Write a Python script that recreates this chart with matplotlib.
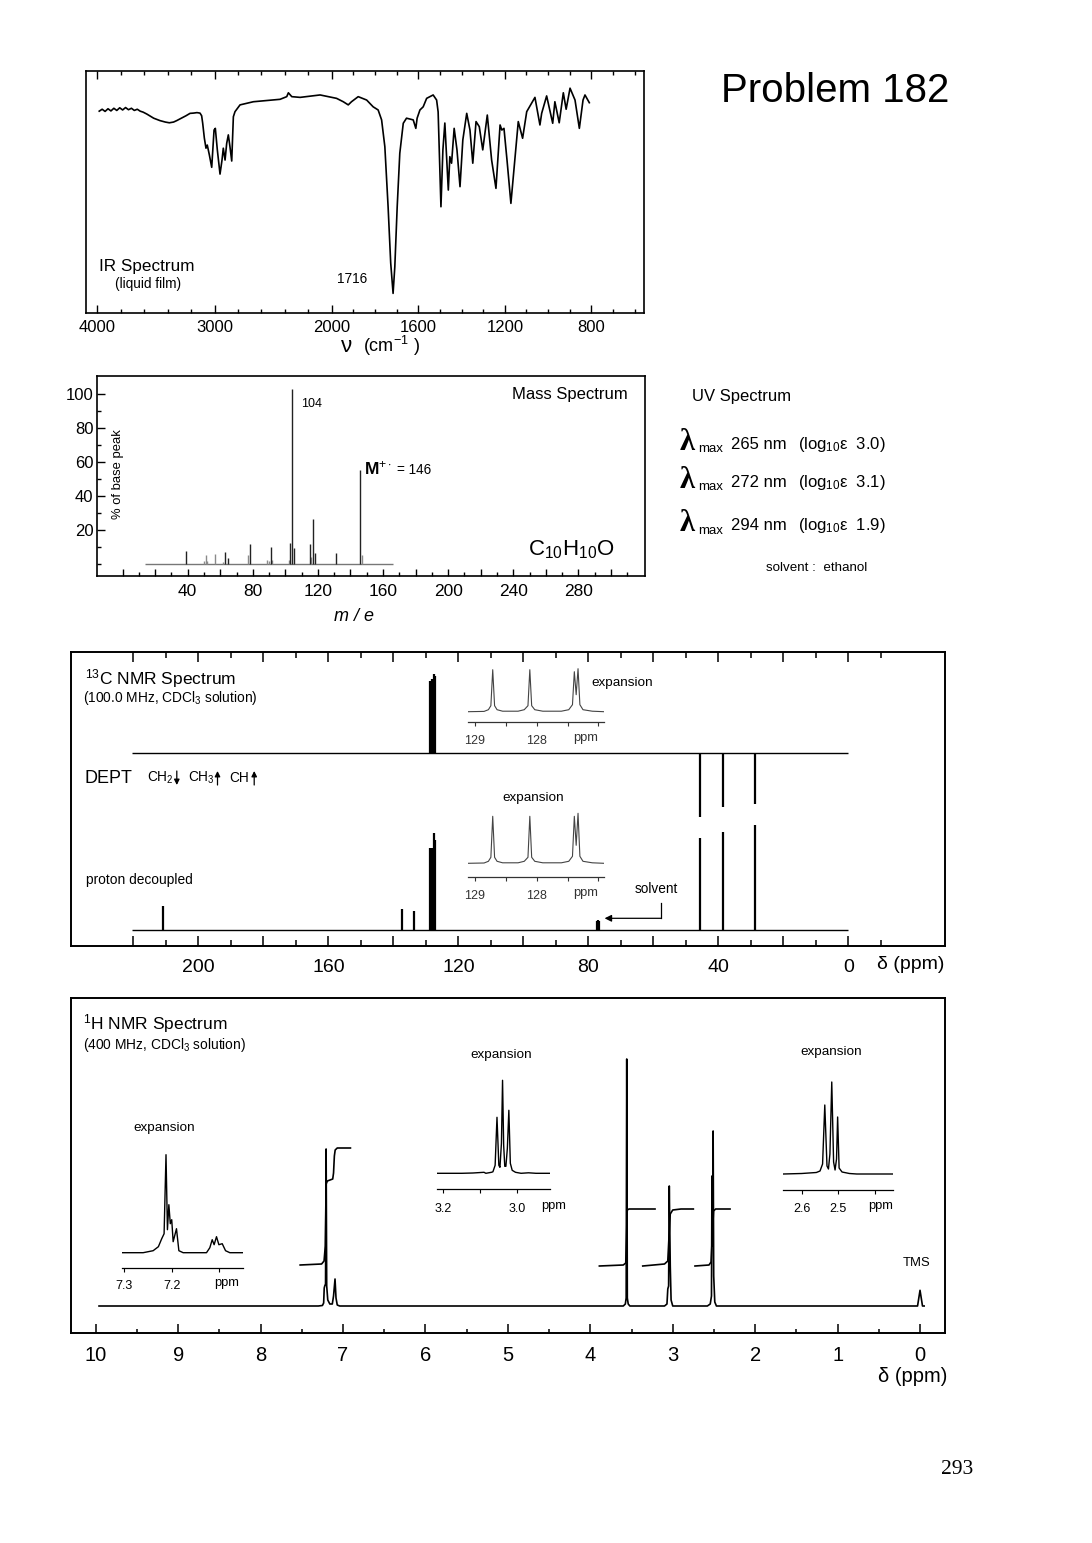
import numpy as np
import matplotlib
matplotlib.use("Agg")
import matplotlib.pyplot as plt
from matplotlib.ticker import FixedLocator, FixedFormatter, NullFormatter

plt.rcParams['font.family'] = ['Liberation Sans', 'DejaVu Sans']
plt.rcParams['mathtext.fontset'] = 'custom'
plt.rcParams['mathtext.rm'] = 'Liberation Sans'
plt.rcParams['mathtext.it'] = 'Liberation Sans:italic'
plt.rcParams['mathtext.bf'] = 'Liberation Sans:bold'

# ---------------- data ----------------
# IR trace (wavenumber cm-1, transmittance-like scale 0..100 of frame height)
ir_wavenumber = [3985, 3960, 3935, 3910, 3885, 3860, 3835, 3810, 3785, 3760, 3735, 3710, 3685, 3660,
                 3635, 3610, 3578, 3520, 3466, 3420, 3386, 3350, 3323, 3280, 3244, 3209, 3180, 3150,
                 3124, 3110, 3101, 3087, 3073, 3062, 3044, 3024, 3004, 2993, 2976, 2953, 2936, 2925,
                 2910, 2896, 2882, 2868, 2853, 2839, 2825, 2782, 2668, 2440, 2383, 2369, 2340, 2269,
                 2098, 1977, 1946, 1923, 1908, 1877, 1838, 1808, 1785, 1769, 1754, 1739, 1727, 1716,
                 1708, 1697, 1685, 1669, 1654, 1623, 1611, 1605, 1592, 1577, 1561, 1546, 1531, 1515,
                 1508, 1495, 1486, 1477, 1461, 1454, 1446, 1434, 1421, 1407, 1394, 1376, 1361, 1348,
                 1333, 1318, 1302, 1281, 1261, 1241, 1222, 1214, 1204, 1190, 1172, 1158, 1138, 1118,
                 1099, 1061, 1038, 1030, 1007, 979, 969, 949, 930, 917, 899, 876, 856, 839, 830, 810]
ir_transmittance = [83.4, 84.2, 83.3, 84.4, 83.5, 84.6, 83.7, 84.8, 83.9, 84.9, 84.0, 84.6, 83.7, 84.2,
                    83.4, 83.0, 82.2, 80.5, 79.5, 78.9, 78.6, 78.9, 79.5, 80.6, 81.5, 82.5, 82.6, 82.8,
                    82.6, 81.5, 78.4, 72.3, 68.1, 69.4, 65.3, 60.2, 75.6, 76.3, 67.4, 57.4, 63.2, 68.1,
                    63.2, 70.1, 73.6, 68.7, 62.8, 81.1, 83.2, 86.0, 87.3, 88.3, 89.4, 91.0, 89.4, 89.1,
                    90.1, 88.7, 87.3, 86.0, 87.3, 89.4, 88.0, 85.2, 83.9, 79.8, 68.7, 43.9, 20.7, 8.1,
                    19.1, 43.9, 66.0, 78.4, 80.5, 79.8, 76.3, 80.5, 83.9, 85.2, 88.7, 89.4, 90.1, 88.0,
                    83.1, 43.9, 67.4, 78.5, 50.8, 64.6, 61.9, 76.3, 67.4, 52.2, 71.5, 82.5, 75.6, 61.9,
                    79.1, 77.0, 67.4, 81.8, 63.2, 51.5, 77.7, 75.6, 76.3, 63.2, 45.3, 59.1, 79.1, 72.2,
                    83.2, 89.1, 77.7, 82.5, 89.7, 78.4, 87.3, 78.6, 91.0, 84.2, 92.9, 88.0, 76.3, 88.0, 90.1, 86.9]
ir_major_ticks = [4000, 3000, 2000, 1600, 1200, 800]
ir_minor_ticks = [3800, 3600, 3400, 3200, 2800, 2600, 2400, 2200, 1900, 1800, 1700,
                  1500, 1400, 1300, 1100, 1000, 900, 700, 600]

# Mass spectrum
ms_mz = [39, 63, 65, 78, 91, 103, 104, 105, 115, 117, 118, 131, 146]
ms_intensity = [7.4, 6.8, 3.3, 11.6, 10.0, 12.0, 103.0, 9.5, 11.5, 26.6, 6.4, 6.2, 55.3]
ms_minor_mz = [50, 51, 52, 57, 62, 77, 89, 90, 92, 102, 116, 147]
ms_minor_intensity = [1.4, 4.9, 1.5, 5.8, 1.2, 5.4, 2.5, 1.5, 2.0, 2.0, 4.0, 5.2]
ms_baseline_range = [14, 166]
ms_xtick_labels = [40, 80, 120, 160, 200, 240, 280]
ms_ytick_labels = [20, 40, 60, 80, 100]

# UV
uv_lambda_max = [265, 272, 294]
uv_log_eps = ["3.0", "3.1", "1.9"]

# 13C NMR
c13_ppm = [211.0, 137.4, 133.8, 128.71, 128.11, 127.39, 127.33, 45.6, 38.6, 28.7]
c13_decoupled = [24, 21, 19.3, 82, 82, 97, 90, 92, 98, 105]
c13_solvent_ppm = [77.3, 77.0, 76.7]
c13_solvent_int = [9, 10, 9]
dept_ppm = [128.71, 128.11, 127.39, 127.33, 45.6, 38.6, 28.7]
dept_int = [72, 74, 79, 77, -64, -54, -51]
c13_range = [220.5, 0.0]
c13_exp_ppm = [129.11, 128.85, 128.78, 128.74, 128.71, 128.68, 128.64, 128.55, 128.3, 128.2,
               128.14, 128.11, 128.08, 128.03, 127.9, 127.6, 127.48, 127.42, 127.39, 127.36,
               127.33, 127.30, 127.25, 127.1, 126.91]
c13_exp_dept = [0, 0.3, 2, 6, 42, 6, 2, 0.5, 0.5, 2, 6, 42, 6, 2, 0.5, 0.5, 2, 7, 40, 17, 43, 7, 2, 0.5, 0]
c13_exp_dec = [0, 0.3, 2, 6, 47, 6, 2, 0.5, 0.5, 2, 6, 47, 6, 2, 0.5, 0.5, 2, 7, 47, 18, 50, 7, 2, 0.5, 0]

# 1H NMR main trace
h1_ppm = [9.96, 7.30, 7.25, 7.235, 7.228, 7.222, 7.212, 7.205, 7.198, 7.185, 7.16, 7.13, 7.115,
          7.097, 7.085, 7.07, 7.04, 3.60, 3.575, 3.565, 3.558, 3.551, 3.54, 3.52, 3.10, 3.07,
          3.060, 3.050, 3.042, 3.030, 3.020, 3.00, 2.58, 2.545, 2.530, 2.524, 2.518, 2.510,
          2.503, 2.49, 2.47, 0.03, 0.0, -0.03, -0.05]
h1_int = [0, 0, 0.5, 3, 18, 20, 22, 157, 20, 6, 2, 2, 10, 27, 8, 1, 0, 0, 2, 8, 247, 8, 2, 0,
          0, 2, 17, 20, 120, 40, 6, 0, 0, 2, 10, 130, 60, 175, 30, 4, 0, 0, 15.7, 0, 0]
# integrals
int_arom_ppm = [7.52, 7.26, 7.23, 7.215, 7.205, 7.19, 7.125, 7.115, 7.105, 7.095, 7.07, 6.91]
int_arom_val = [41, 42, 45, 60, 122, 125, 127, 133, 150, 156, 158, 158]
int_s356_ppm = [3.89, 3.60, 3.57, 3.56, 3.552, 3.53, 3.215]
int_s356_val = [40, 41, 43, 70, 96, 97, 97]
int_t304_ppm = [3.364, 3.10, 3.06, 3.045, 3.03, 3.00, 2.90, 2.75]
int_t304_val = [40, 42, 45, 70, 92, 96, 97, 97]
int_t251_ppm = [2.73, 2.56, 2.535, 2.52, 2.505, 2.48, 2.305]
int_t251_val = [40, 41, 44, 70, 95, 97, 97]
# 1H expansions
h1_exp_arom_ppm = [7.305, 7.26, 7.239, 7.228, 7.221, 7.216, 7.212, 7.209, 7.206, 7.203, 7.200,
                   7.197, 7.190, 7.185, 7.176, 7.127, 7.120, 7.115, 7.111, 7.106, 7.101, 7.094,
                   7.087, 7.078, 7.051]
h1_exp_arom_int = [0, 0, 2, 6, 14, 19, 98, 23, 48, 29, 33, 11, 24, 2, 0, 0, 5, 13, 8, 16, 8, 9, 2, 0, 0]
h1_exp_304_ppm = [3.216, 3.15, 3.12, 3.09, 3.085, 3.07, 3.066, 3.060, 3.055, 3.050, 3.047, 3.043,
                  3.040, 3.037, 3.034, 3.031, 3.027, 3.023, 3.019, 3.014, 3.005, 2.99, 2.97, 2.95, 2.912]
h1_exp_304_int = [0, 0, 0.3, 1, 0, 1, 1.5, 8, 56, 8, 6, 30, 93, 28, 7, 7, 25, 63, 10, 3, 1, 0, 0.5, 0, 0]
h1_exp_251_ppm = [2.65, 2.60, 2.58, 2.56, 2.55, 2.543, 2.537, 2.531, 2.527, 2.523, 2.518, 2.513,
                  2.509, 2.505, 2.502, 2.498, 2.49, 2.47, 2.45, 2.352]
h1_exp_251_int = [0, 0.5, 1, 1.5, 3, 10, 69, 8, 5, 20, 92, 12, 4, 15, 57, 6, 2, 0.5, 0, 0]

# ---------------- figure ----------------
W, H = 1092, 1543
fig = plt.figure(figsize=(W / 100, H / 100), dpi=100)


def px_axes(l, t, r, b):
    return fig.add_axes([l / W, 1 - b / H, (r - l) / W, (b - t) / H])


def ftext(x, y, s, **kw):
    kw.setdefault('ha', 'left')
    kw.setdefault('va', 'center')
    return fig.text(x / W, 1 - y / H, s, **kw)


def farrow(x, y_from, y_to):
    fig.add_artist(matplotlib.patches.FancyArrowPatch(
        (x / W, 1 - y_from / H), (x / W, 1 - y_to / H), transform=fig.transFigure,
        arrowstyle='-|>', mutation_scale=8, lw=0.9, color='k', shrinkA=0, shrinkB=0))


def frame(ax, lw):
    for s in ax.spines.values():
        s.set_linewidth(lw)


# ---------- IR ----------
K = 0.2165 / 0.117


def ir_fwd(w):
    w = np.asarray(w, dtype=float)
    return np.where(w >= 2000, w - 2000, -(2000 - w) * K)


def ir_inv(u):
    u = np.asarray(u, dtype=float)
    return np.where(u >= 0, u + 2000, 2000 + u / K)


ax = px_axes(86, 71, 644, 313)
ax.set_xscale('function', functions=(ir_fwd, ir_inv))
ax.plot(ir_wavenumber, ir_transmittance, color='k', lw=1.2)
ax.set_xlim(4098, 557.5)
ax.set_ylim(0, 100)
ax.xaxis.set_major_locator(FixedLocator(ir_major_ticks))
ax.xaxis.set_major_formatter(FixedFormatter([str(t) for t in ir_major_ticks]))
ax.xaxis.set_minor_locator(FixedLocator(ir_minor_ticks))
ax.xaxis.set_minor_formatter(NullFormatter())
ax.tick_params(axis='x', which='both', direction='in', top=True, bottom=True, width=1.0,
               labelsize=12, pad=5)
ax.tick_params(axis='x', which='major', length=6)
ax.tick_params(axis='x', which='minor', length=3)
ax.set_yticks([])
frame(ax, 1.2)
ftext(98.6, 266.6, 'IR Spectrum', fontsize=12.3)
ftext(115, 283.8, '(liquid film)', fontsize=9.8)
ftext(336.5, 278.8, '1716', fontsize=9.8)
ftext(341, 347, 'ν', fontsize=16)
ftext(363, 346, '(cm$^{-1}$ )', fontsize=13)

ftext(835, 91, 'Problem 182', fontsize=29, ha='center')

# ---------- Mass spectrum ----------
ax = px_axes(97, 376, 645, 576)
ax.hlines(0, ms_baseline_range[0], ms_baseline_range[1], color='#777777', lw=1.0)
ax.vlines(ms_minor_mz, 0, ms_minor_intensity, color='#8a8a8a', lw=1.0)
ax.vlines(ms_mz, 0, ms_intensity, color='#222222', lw=1.0)
ax.set_xlim(-15.7, 320.9)
ax.set_ylim(-7.2, 110.4)
xmaj = list(range(0, 301, 20))
ax.xaxis.set_major_locator(FixedLocator(xmaj))
ax.xaxis.set_major_formatter(FixedFormatter([str(v) if v in ms_xtick_labels else '' for v in xmaj]))
ax.xaxis.set_minor_locator(FixedLocator(list(range(10, 320, 20))))
ax.yaxis.set_major_locator(FixedLocator(ms_ytick_labels))
ax.yaxis.set_major_formatter(FixedFormatter([str(v) for v in ms_ytick_labels]))
ax.yaxis.set_minor_locator(FixedLocator([0, 10, 30, 50, 70, 90]))
ax.tick_params(which='both', direction='in', width=1.0, labelsize=12.5)
ax.tick_params(axis='x', which='major', length=5, pad=6)
ax.tick_params(axis='x', which='minor', length=3)
ax.tick_params(axis='y', which='major', length=6, pad=2.5, labelsize=12)
ax.tick_params(axis='y', which='minor', length=3)
frame(ax, 1.2)
ax.text(0.969, 0.905, 'Mass Spectrum', transform=ax.transAxes, ha='right', va='center', fontsize=12)
ax.text(0.865, 0.13, r'C$_{10}$H$_{10}$O', transform=ax.transAxes, ha='center', va='center', fontsize=16)
ftext(300.7, 403.7, '104', fontsize=9)
ftext(364, 468.7, r'$\mathbf{M}^{+\cdot}$', fontsize=12.5)
ftext(397, 470, '= 146', fontsize=9.8)
ftext(118, 474, '% of base peak', fontsize=9.4, rotation=90, ha='center')
ftext(354, 616, 'm / e', fontsize=13, style='italic', ha='center')

# ---------- UV ----------
ftext(691.7, 396.7, 'UV Spectrum', fontsize=12)
uv_rows_y = [444.5, 482.5, 525.5]
for lam, eps, yy in zip(uv_lambda_max, uv_log_eps, uv_rows_y):
    ftext(680, yy - 2, 'λ', fontsize=22, family=['Liberation Serif', 'DejaVu Serif'], weight='bold')
    ftext(698.5, yy + 5, 'max', fontsize=9.5)
    ftext(731, yy, f'{lam} nm', fontsize=12)
    ftext(798, yy, '(log$_{10}$ε  ' + eps + ')', fontsize=12)
ftext(766, 568, 'solvent :  ethanol', fontsize=9.6)

# ---------- 13C NMR ----------
DEPT_OFF = 192.7
DEC_OFF = 16.0
ax = px_axes(71, 652, 945, 946)
ax.hlines(DEPT_OFF, c13_range[0], c13_range[1], color='k', lw=1.0)
ax.hlines(DEC_OFF, c13_range[0], c13_range[1], color='k', lw=1.0)
ax.vlines(dept_ppm, DEPT_OFF, DEPT_OFF + np.array(dept_int), color='k', lw=1.6)
ax.vlines(c13_ppm, DEC_OFF, DEC_OFF + np.array(c13_decoupled), color='k', lw=1.6)
ax.vlines(c13_solvent_ppm, DEC_OFF, DEC_OFF + np.array(c13_solvent_int), color='k', lw=1.6)
ax.set_xlim(239.2, -29.75)
ax.set_ylim(0, 294)
cmaj = list(range(220, -1, -20))
ax.xaxis.set_major_locator(FixedLocator(cmaj))
ax.xaxis.set_major_formatter(FixedFormatter([str(v) if v % 40 == 0 and v <= 200 else '' for v in cmaj]))
ax.xaxis.set_minor_locator(FixedLocator(list(range(210, -11, -20))))
ax.tick_params(axis='x', which='both', direction='in', top=True, bottom=True, width=1.1,
               labelsize=14, pad=9)
ax.tick_params(axis='x', which='major', length=7)
ax.tick_params(axis='x', which='minor', length=4.5)
ax.set_yticks([])
frame(ax, 1.4)
# solvent arrow
ax.plot([57.7, 57.7], [43, 27.7], color='k', lw=0.9)
ax.annotate('', xy=(75.0, 27.7), xytext=(57.7, 27.7),
            arrowprops=dict(arrowstyle='-|>', color='k', lw=0.9, mutation_scale=10, shrinkA=0, shrinkB=0))

ftext(85, 678.3, r'$^{13}$C NMR Spectrum', fontsize=12.5)
ftext(83.3, 698.3, r'(100.0 MHz, CDCl$_3$ solution)', fontsize=9.9)
ftext(85, 778.3, 'DEPT', fontsize=13)
ftext(147.3, 777.7, r'CH$_2$', fontsize=9.8)
ftext(188.3, 777.7, r'CH$_3$', fontsize=9.8)
ftext(229.3, 777.7, 'CH', fontsize=9.8)
farrow(176.8, 771, 785)
farrow(217.5, 785, 771)
farrow(254.2, 785, 771)
ftext(86, 880, 'proton decoupled', fontsize=9.9)
ftext(635, 889, 'solvent', fontsize=9.8)
ftext(591.7, 683, 'expansion', fontsize=9.7)
ftext(502, 798, 'expansion', fontsize=9.7)
ftext(877, 964.3, 'δ (ppm)', fontsize=14)


def inset(l, r, top, axis_y, xlim, ticks, labels, pad, color='k'):
    a = px_axes(l, top, r, axis_y)
    a.set_xlim(*xlim)
    a.set_ylim(0, axis_y - top)
    a.patch.set_alpha(0)
    for s in ['top', 'left', 'right']:
        a.spines[s].set_visible(False)
    a.spines['bottom'].set_linewidth(0.9)
    a.spines['bottom'].set_color(color)
    a.set_yticks([])
    a.xaxis.set_major_locator(FixedLocator(ticks))
    a.xaxis.set_major_formatter(FixedFormatter(labels))
    a.tick_params(axis='x', direction='out', length=3, width=0.8, labelsize=9, pad=pad, colors=color)
    return a


c13_ticks = [129, 128.5, 128, 127.5, 127]
c13_tlabels = ['129', '', '128', '', '']
a = inset(468, 604, 655, 721.7, (129.11, 126.91), c13_ticks, c13_tlabels, 6.3, '#333333')
a.plot(c13_exp_ppm, 10.0 + np.array(c13_exp_dept), color='#444444', lw=0.8)
ftext(585.8, 738.3, 'ppm', fontsize=9.3, ha='center', color='#333333')
a = inset(468, 604, 805, 876.7, (129.11, 126.91), c13_ticks, c13_tlabels, 6.3, '#333333')
a.plot(c13_exp_ppm, 13.4 + np.array(c13_exp_dec), color='#444444', lw=0.8)
ftext(585.8, 892.7, 'ppm', fontsize=9.3, ha='center', color='#333333')

# ---------- 1H NMR ----------
H_OFF = 26.5
ax = px_axes(71, 998, 945, 1332.5)
ax.plot(h1_ppm, H_OFF + np.array(h1_int), color='k', lw=1.2)
for pp, vv in [(int_arom_ppm, int_arom_val), (int_s356_ppm, int_s356_val),
               (int_t304_ppm, int_t304_val), (int_t251_ppm, int_t251_val)]:
    ax.plot(pp, H_OFF + np.array(vv), color='k', lw=1.2)
ax.set_xlim(10.30, -0.303)
ax.set_ylim(0, 334.5)
hmaj = list(range(10, -1, -1))
ax.xaxis.set_major_locator(FixedLocator(hmaj))
ax.xaxis.set_major_formatter(FixedFormatter([str(v) for v in hmaj]))
ax.xaxis.set_minor_locator(FixedLocator([v + 0.5 for v in range(0, 10)]))
ax.tick_params(axis='x', which='both', direction='in', bottom=True, top=False, width=1.1,
               labelsize=14.5, pad=9.5)
ax.tick_params(axis='x', which='major', length=6.5)
ax.tick_params(axis='x', which='minor', length=3)
ax.set_yticks([])
frame(ax, 1.4)
ftext(83.3, 1023.3, r'$^{1}$H NMR Spectrum', fontsize=12.5)
ftext(83.3, 1045, r'(400 MHz, CDCl$_3$ solution)', fontsize=9.9)
ftext(133.3, 1128.3, 'expansion', fontsize=9.7)
ftext(470, 1055, 'expansion', fontsize=9.7)
ftext(800, 1052.3, 'expansion', fontsize=9.7)
ftext(902.3, 1263.3, 'TMS', fontsize=9.4)
ftext(947, 1376, 'δ (ppm)', fontsize=14.5, ha='right')

a = inset(121.7, 242.7, 1140, 1268.3, (7.305, 7.051), [7.3, 7.2, 7.1], ['7.3', '7.2', ''], 5.4)
a.plot(h1_exp_arom_ppm, 15.6 + np.array(h1_exp_arom_int), color='k', lw=1.0)
ftext(226.7, 1283.3, 'ppm', fontsize=9.3, ha='center')
a = inset(437.3, 550, 1070, 1189, (3.216, 2.912), [3.2, 3.1, 3.0], ['3.2', '', '3.0'], 6.8)
a.plot(h1_exp_304_ppm, 15.7 + np.array(h1_exp_304_int), color='k', lw=1.0)
ftext(553.3, 1206, 'ppm', fontsize=9.3, ha='center')
a = inset(783.3, 892.7, 1070, 1190, (2.650, 2.352), [2.6, 2.5, 2.4], ['2.6', '2.5', ''], 6.1)
a.plot(h1_exp_251_ppm, 16.0 + np.array(h1_exp_251_int), color='k', lw=1.0)
ftext(881, 1206, 'ppm', fontsize=9.3, ha='center')

ftext(957, 1470, '293', fontsize=15.5, ha='center', family=['Liberation Serif', 'DejaVu Serif'])

fig.savefig('out.png', dpi=100)
